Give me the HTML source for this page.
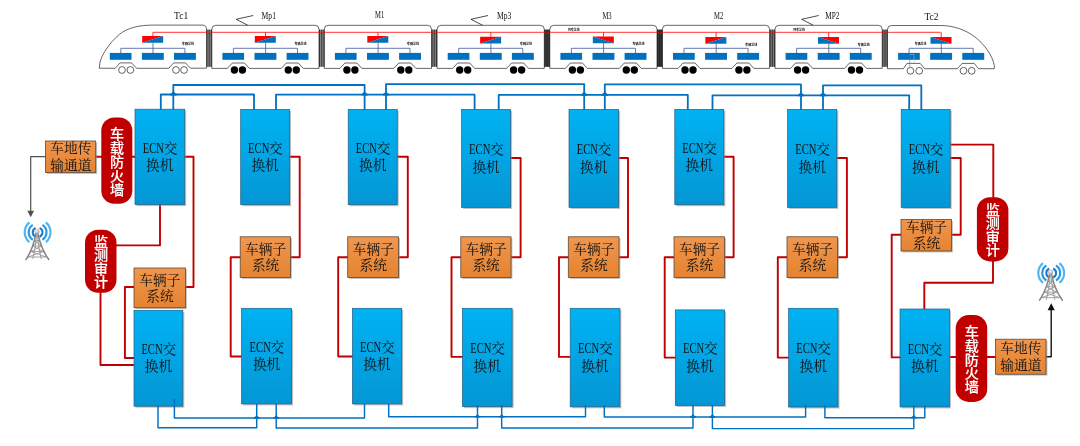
<!DOCTYPE html>
<html lang="zh"><head><meta charset="utf-8"><title>ECN</title>
<style>
html,body{margin:0;padding:0;background:#fff;}
body{width:1080px;height:446px;overflow:hidden;}
svg{display:block;}
.t{font-family:"Liberation Serif","Noto Serif CJK SC",serif;font-size:13.7px;fill:#111;}
.w{font-family:"Liberation Sans","Noto Sans CJK SC",sans-serif;font-size:14.1px;font-weight:500;fill:#fff;stroke:#fff;stroke-width:0.15px;}
.lbl{font-family:"Liberation Serif","Noto Serif CJK SC",serif;font-size:9.3px;fill:#111;}
.tiny{font-family:"Liberation Sans","Noto Sans CJK SC",sans-serif;font-size:3.2px;font-weight:bold;fill:#000;}
</style></head><body>
<svg width="1080" height="446" viewBox="0 0 1080 446">
<defs>
<linearGradient id="gE" x1="0" y1="0" x2="0" y2="1"><stop offset="0" stop-color="#00B2F2"/><stop offset="0.45" stop-color="#02A6E6"/><stop offset="1" stop-color="#0496D4"/></linearGradient>
<linearGradient id="gO" x1="0" y1="0" x2="0" y2="1"><stop offset="0" stop-color="#F0964F"/><stop offset="1" stop-color="#E5832F"/></linearGradient>
<radialGradient id="gB" cx="0.4" cy="0.35" r="0.7"><stop offset="0" stop-color="#ffffff"/><stop offset="1" stop-color="#9a9a9a"/></radialGradient>
<filter id="soft" x="-20%" y="-20%" width="140%" height="140%"><feGaussianBlur stdDeviation="0.35"/></filter>
<filter id="sh" x="-10%" y="-10%" width="120%" height="120%"><feGaussianBlur stdDeviation="0.7"/></filter>
</defs>
<rect width="1080" height="446" fill="#fff"/>
<g id="train">
<path d="M99.3 68.2L99.9 63.1C101 56 109 43 119.6 34.2C128 27.5 140 25.1 152.9 25.1H202.5Q206.5 25.1 206.5 29.4V68.2H190.5L185.5 62.9H173.7L168.7 68.3H136.6L131.6 62.9H120L115.2 68.3Z" fill="#fff" stroke="#000" stroke-width="0.6"/>
<path d="M211.8 68.4V29.3Q211.8 25.3 215.8 25.3H315.0Q319.0 25.3 319.0 29.3V68.4H303.3L298.3 63.0H286.3L281.3 68.4H249.4L244.4 63.0H232.4L227.4 68.4Z" fill="#fff" stroke="#000" stroke-width="0.6"/>
<path d="M324.3 68.4V29.3Q324.3 25.3 328.3 25.3H427.5Q431.5 25.3 431.5 29.3V68.4H415.8L410.8 63.0H398.8L393.8 68.4H361.9L356.9 63.0H344.9L339.9 68.4Z" fill="#fff" stroke="#000" stroke-width="0.6"/>
<path d="M437.1 68.4V29.3Q437.1 25.3 441.1 25.3H540.3Q544.3 25.3 544.3 29.3V68.4H528.6L523.6 63.0H511.6L506.6 68.4H474.7L469.7 63.0H457.7L452.7 68.4Z" fill="#fff" stroke="#000" stroke-width="0.6"/>
<path d="M549.8 68.4V29.3Q549.8 25.3 553.8 25.3H653.0Q657.0 25.3 657.0 29.3V68.4H641.3L636.3 63.0H624.3L619.3 68.4H587.4L582.4 63.0H570.4L565.4 68.4Z" fill="#fff" stroke="#000" stroke-width="0.6"/>
<path d="M662.4 68.4V29.3Q662.4 25.3 666.4 25.3H765.6Q769.6 25.3 769.6 29.3V68.4H753.9L748.9 63.0H736.9L731.9 68.4H700.0L695.0 63.0H683.0L678.0 68.4Z" fill="#fff" stroke="#000" stroke-width="0.6"/>
<path d="M775.0 68.4V29.3Q775.0 25.3 779.0 25.3H878.2Q882.2 25.3 882.2 29.3V68.4H866.5L861.5 63.0H849.5L844.5 68.4H812.6L807.6 63.0H795.6L790.6 68.4Z" fill="#fff" stroke="#000" stroke-width="0.6"/>
<path d="M887.5 68.7V29.5Q887.5 25.5 891.5 25.5H940.6C953 25.5 965 29.5 975 37C985 45 992 55 994.3 65.3V68.7H978.5L974.2 63.4H962.2L957.4 68.7H924.6L920.2 63.4H907L903.4 68.7Z" fill="#fff" stroke="#000" stroke-width="0.6"/>
<rect x="206.5" y="29.6" width="5.3" height="37.2" fill="#858585"/><path d="M206.90 29.6V66.8" stroke="#1a1a1a" stroke-width="0.8"/><path d="M209.15 29.6V66.8" stroke="#1a1a1a" stroke-width="0.7"/><path d="M211.40 29.6V66.8" stroke="#1a1a1a" stroke-width="0.8"/>
<rect x="319.1" y="29.6" width="5.3" height="37.2" fill="#858585"/><path d="M319.50 29.6V66.8" stroke="#1a1a1a" stroke-width="0.8"/><path d="M321.75 29.6V66.8" stroke="#1a1a1a" stroke-width="0.7"/><path d="M324.00 29.6V66.8" stroke="#1a1a1a" stroke-width="0.8"/>
<rect x="431.6" y="29.6" width="5.3" height="37.2" fill="#808080"/><path d="M432.00 29.6V66.8" stroke="#1a1a1a" stroke-width="0.8"/><path d="M434.25 29.6V66.8" stroke="#1a1a1a" stroke-width="0.7"/><path d="M436.50 29.6V66.8" stroke="#1a1a1a" stroke-width="0.8"/>
<rect x="544.4" y="29.6" width="5.3" height="37.2" fill="#404040"/><path d="M544.80 29.6V66.8" stroke="#1a1a1a" stroke-width="0.8"/><path d="M547.05 29.6V66.8" stroke="#1a1a1a" stroke-width="0.7"/><path d="M549.30 29.6V66.8" stroke="#1a1a1a" stroke-width="0.8"/>
<rect x="657.1" y="29.6" width="5.3" height="37.2" fill="#383838"/><path d="M657.50 29.6V66.8" stroke="#1a1a1a" stroke-width="0.8"/><path d="M659.75 29.6V66.8" stroke="#1a1a1a" stroke-width="0.7"/><path d="M662.00 29.6V66.8" stroke="#1a1a1a" stroke-width="0.8"/>
<rect x="769.7" y="29.6" width="5.3" height="37.2" fill="#787878"/><path d="M770.10 29.6V66.8" stroke="#1a1a1a" stroke-width="0.8"/><path d="M772.35 29.6V66.8" stroke="#1a1a1a" stroke-width="0.7"/><path d="M774.60 29.6V66.8" stroke="#1a1a1a" stroke-width="0.8"/>
<rect x="882.3" y="29.6" width="5.3" height="37.2" fill="#787878"/><path d="M882.70 29.6V66.8" stroke="#1a1a1a" stroke-width="0.8"/><path d="M884.95 29.6V66.8" stroke="#1a1a1a" stroke-width="0.7"/><path d="M887.20 29.6V66.8" stroke="#1a1a1a" stroke-width="0.8"/>
<path d="M152.9 32.3H205.7Q209.1 34.6 212.6 32.3H318.3Q321.7 34.6 325.2 32.3H430.8Q434.2 34.6 437.7 32.3H543.6Q547.0 34.6 550.5 32.3H656.3Q659.7 34.6 663.2 32.3H768.9Q772.3 34.6 775.8 32.3H881.5Q884.9 34.6 888.4 32.3H940.6" stroke="#FF0000" stroke-width="0.8" fill="none"/>
<rect x="109.8" y="52.9" width="21.7" height="6.9" fill="#0070C0"/>
<rect x="141.9" y="52.9" width="21.9" height="6.9" fill="#0070C0"/>
<rect x="174.0" y="52.9" width="21.9" height="6.9" fill="#0070C0"/>
<path d="M120.8 53V48.3H184.9V53M153.0 42.5V53" fill="none" stroke="#34509a" stroke-width="0.9" opacity="0.85"/>
<path d="M142.2 36.1H163.2L142.2 42.8Z" fill="#FF0000"/>
<path d="M163.2 36.1V42.8H142.2Z" fill="#0070C0"/>
<path d="M152.9 32.3V36.1" stroke="#FF0000" stroke-width="0.8" fill="none"/>
<text x="182.0" y="44.6" class="tiny" textLength="12" lengthAdjust="spacingAndGlyphs">车辆总线</text>
<rect x="222.4" y="52.9" width="21.7" height="6.9" fill="#0070C0"/>
<rect x="254.5" y="52.9" width="21.9" height="6.9" fill="#0070C0"/>
<rect x="286.6" y="52.9" width="21.9" height="6.9" fill="#0070C0"/>
<path d="M233.4 53V48.3H297.5V53M265.6 42.5V53" fill="none" stroke="#34509a" stroke-width="0.9" opacity="0.85"/>
<path d="M254.8 36.1H275.8L254.8 42.8Z" fill="#FF0000"/>
<path d="M275.8 36.1V42.8H254.8Z" fill="#0070C0"/>
<path d="M265.5 32.3V36.1" stroke="#FF0000" stroke-width="0.8" fill="none"/>
<text x="294.6" y="44.6" class="tiny" textLength="12" lengthAdjust="spacingAndGlyphs">车辆总线</text>
<rect x="334.9" y="52.9" width="21.7" height="6.9" fill="#0070C0"/>
<rect x="367.0" y="52.9" width="21.9" height="6.9" fill="#0070C0"/>
<rect x="399.1" y="52.9" width="21.9" height="6.9" fill="#0070C0"/>
<path d="M345.9 53V48.3H410.0V53M378.1 42.5V53" fill="none" stroke="#34509a" stroke-width="0.9" opacity="0.85"/>
<path d="M367.3 36.1H388.3L367.3 42.8Z" fill="#FF0000"/>
<path d="M388.3 36.1V42.8H367.3Z" fill="#0070C0"/>
<path d="M378.0 32.3V36.1" stroke="#FF0000" stroke-width="0.8" fill="none"/>
<text x="407.1" y="44.6" class="tiny" textLength="12" lengthAdjust="spacingAndGlyphs">车辆总线</text>
<rect x="447.7" y="52.9" width="21.7" height="6.9" fill="#0070C0"/>
<rect x="479.8" y="52.9" width="21.9" height="6.9" fill="#0070C0"/>
<rect x="511.9" y="52.9" width="21.9" height="6.9" fill="#0070C0"/>
<path d="M458.7 53V48.3H522.8V53M490.9 43.1V53" fill="none" stroke="#34509a" stroke-width="0.9" opacity="0.85"/>
<path d="M480.1 36.7H501.1L480.1 43.4Z" fill="#FF0000"/>
<path d="M501.1 36.7V43.4H480.1Z" fill="#0070C0"/>
<path d="M490.8 32.3V36.7" stroke="#FF0000" stroke-width="0.8" fill="none"/>
<text x="519.9" y="45.2" class="tiny" textLength="12" lengthAdjust="spacingAndGlyphs">车辆总线</text>
<rect x="560.4" y="52.9" width="21.7" height="6.9" fill="#0070C0"/>
<rect x="592.5" y="52.9" width="21.9" height="6.9" fill="#0070C0"/>
<rect x="624.6" y="52.9" width="21.9" height="6.9" fill="#0070C0"/>
<path d="M571.4 53V48.3H635.5V53M603.6 42.9V53" fill="none" stroke="#34509a" stroke-width="0.9" opacity="0.85"/>
<path d="M592.8 36.5H613.8V43.2Z" fill="#FF0000"/>
<path d="M592.8 36.5L613.8 43.2H592.8Z" fill="#0070C0"/>
<path d="M603.5 32.3V36.5" stroke="#FF0000" stroke-width="0.8" fill="none"/>
<text x="632.6" y="45.0" class="tiny" textLength="12" lengthAdjust="spacingAndGlyphs">车辆总线</text>
<text x="568.1" y="31.0" class="tiny" textLength="11.5" lengthAdjust="spacingAndGlyphs">列车总线</text>
<rect x="673.0" y="52.9" width="21.7" height="6.9" fill="#0070C0"/>
<rect x="705.1" y="52.9" width="21.9" height="6.9" fill="#0070C0"/>
<rect x="737.2" y="52.9" width="21.9" height="6.9" fill="#0070C0"/>
<path d="M684.0 53V48.3H748.1V53M716.2 43.4V53" fill="none" stroke="#34509a" stroke-width="0.9" opacity="0.85"/>
<path d="M705.4 37.0H726.4L705.4 43.7Z" fill="#FF0000"/>
<path d="M726.4 37.0V43.7H705.4Z" fill="#0070C0"/>
<path d="M716.1 32.3V37.0" stroke="#FF0000" stroke-width="0.8" fill="none"/>
<text x="745.2" y="45.5" class="tiny" textLength="12" lengthAdjust="spacingAndGlyphs">车辆总线</text>
<rect x="785.6" y="52.9" width="21.7" height="6.9" fill="#0070C0"/>
<rect x="817.7" y="52.9" width="21.9" height="6.9" fill="#0070C0"/>
<rect x="849.8" y="52.9" width="21.9" height="6.9" fill="#0070C0"/>
<path d="M796.6 53V48.3H860.7V53M828.8 43.4V53" fill="none" stroke="#34509a" stroke-width="0.9" opacity="0.85"/>
<path d="M818.0 37.0H839.0V43.7Z" fill="#FF0000"/>
<path d="M818.0 37.0L839.0 43.7H818.0Z" fill="#0070C0"/>
<path d="M828.7 32.3V37.0" stroke="#FF0000" stroke-width="0.8" fill="none"/>
<text x="857.8" y="45.5" class="tiny" textLength="12" lengthAdjust="spacingAndGlyphs">车辆总线</text>
<text x="793.3" y="31.0" class="tiny" textLength="11.5" lengthAdjust="spacingAndGlyphs">列车总线</text>
<rect x="898.1" y="52.9" width="21.7" height="6.9" fill="#0070C0"/>
<rect x="930.2" y="52.9" width="21.9" height="6.9" fill="#0070C0"/>
<rect x="962.3" y="52.9" width="21.9" height="6.9" fill="#0070C0"/>
<path d="M909.1 53V48.3H973.2V53M941.3 43.5V53" fill="none" stroke="#34509a" stroke-width="0.9" opacity="0.85"/>
<path d="M930.5 37.1H951.5V43.8Z" fill="#FF0000"/>
<path d="M930.5 37.1L951.5 43.8H930.5Z" fill="#0070C0"/>
<path d="M941.2 32.3V37.1" stroke="#FF0000" stroke-width="0.8" fill="none"/>
<text x="914.8" y="44.9" class="tiny" textLength="11.5" lengthAdjust="spacingAndGlyphs">车辆总线</text>
<path d="M909.7 54.5V66.8" stroke="#4472C4" stroke-width="0.6" fill="none"/><path d="M909.7 54.5H914V62.7" stroke="#9DB7E0" stroke-width="0.6" fill="none"/>
<circle cx="122.0" cy="70.0" r="3.4" fill="#fff" stroke="#000" stroke-width="0.6"/>
<circle cx="130.4" cy="70.0" r="3.4" fill="#fff" stroke="#000" stroke-width="0.6"/>
<circle cx="176.0" cy="70.0" r="3.4" fill="#fff" stroke="#000" stroke-width="0.6"/>
<circle cx="184.0" cy="70.0" r="3.4" fill="#fff" stroke="#000" stroke-width="0.6"/>
<circle cx="234.4" cy="70.0" r="3.7" fill="#000"/>
<circle cx="242.4" cy="70.0" r="3.7" fill="#000"/>
<circle cx="288.3" cy="70.0" r="3.7" fill="#000"/>
<circle cx="296.3" cy="70.0" r="3.7" fill="#000"/>
<circle cx="346.9" cy="70.0" r="3.7" fill="#000"/>
<circle cx="354.9" cy="70.0" r="3.7" fill="#000"/>
<circle cx="400.8" cy="70.0" r="3.7" fill="#000"/>
<circle cx="408.8" cy="70.0" r="3.7" fill="#000"/>
<circle cx="459.7" cy="70.0" r="3.7" fill="#000"/>
<circle cx="467.7" cy="70.0" r="3.7" fill="#000"/>
<circle cx="513.6" cy="70.0" r="3.7" fill="#000"/>
<circle cx="521.6" cy="70.0" r="3.7" fill="#000"/>
<circle cx="572.4" cy="70.0" r="3.7" fill="#000"/>
<circle cx="580.4" cy="70.0" r="3.7" fill="#000"/>
<circle cx="626.3" cy="70.0" r="3.7" fill="#000"/>
<circle cx="634.3" cy="70.0" r="3.7" fill="#000"/>
<circle cx="685.0" cy="70.0" r="3.7" fill="#000"/>
<circle cx="693.0" cy="70.0" r="3.7" fill="#000"/>
<circle cx="738.9" cy="70.0" r="3.7" fill="#000"/>
<circle cx="746.9" cy="70.0" r="3.7" fill="#000"/>
<circle cx="797.6" cy="70.0" r="3.7" fill="#000"/>
<circle cx="805.6" cy="70.0" r="3.7" fill="#000"/>
<circle cx="851.5" cy="70.0" r="3.7" fill="#000"/>
<circle cx="859.5" cy="70.0" r="3.7" fill="#000"/>
<circle cx="910.4" cy="70.8" r="3.4" fill="#fff" stroke="#000" stroke-width="0.6"/>
<circle cx="919.2" cy="70.8" r="3.4" fill="#fff" stroke="#000" stroke-width="0.6"/>
<circle cx="963.5" cy="70.8" r="3.4" fill="#fff" stroke="#000" stroke-width="0.6"/>
<circle cx="971.7" cy="70.8" r="3.4" fill="#fff" stroke="#000" stroke-width="0.6"/>
<path d="M253.2 15.5L236.2 19.3L247.7 25.2" fill="none" stroke="#000" stroke-width="0.7"/>
<path d="M488.0 15.5L471.0 19.3L482.5 25.2" fill="none" stroke="#000" stroke-width="0.7"/>
<path d="M818.7 15.5L801.7 19.3L813.2 25.2" fill="none" stroke="#000" stroke-width="0.7"/>
<text x="174.0" y="18.9" class="lbl" textLength="14.2" lengthAdjust="spacingAndGlyphs">Tc1</text>
<text x="261.6" y="18.9" class="lbl" textLength="14.4" lengthAdjust="spacingAndGlyphs">Mp1</text>
<text x="375.0" y="17.8" class="lbl" textLength="9.2" lengthAdjust="spacingAndGlyphs">M1</text>
<text x="497.0" y="18.6" class="lbl" textLength="14.4" lengthAdjust="spacingAndGlyphs">Mp3</text>
<text x="602.4" y="18.6" class="lbl" textLength="9.2" lengthAdjust="spacingAndGlyphs">M3</text>
<text x="714.0" y="18.7" class="lbl" textLength="9.2" lengthAdjust="spacingAndGlyphs">M2</text>
<text x="825.2" y="18.7" class="lbl" textLength="14.2" lengthAdjust="spacingAndGlyphs">MP2</text>
<text x="924.4" y="19.5" class="lbl" textLength="14.2" lengthAdjust="spacingAndGlyphs">Tc2</text>
</g>
<g id="lines">
<path d="M160.8 110V94.5H254.0V110" fill="none" stroke="#0070C0" stroke-width="1.8" stroke-linejoin="round"/>
<path d="M173.3 110V85.0H364.6V110" fill="none" stroke="#0070C0" stroke-width="1.8" stroke-linejoin="round"/>
<path d="M276.0 110V94.7H474.6V110" fill="none" stroke="#0070C0" stroke-width="1.8" stroke-linejoin="round"/>
<path d="M386.0 110V84.2H584.2V110" fill="none" stroke="#0070C0" stroke-width="1.8" stroke-linejoin="round"/>
<path d="M498.7 110V94.9H687.8V110" fill="none" stroke="#0070C0" stroke-width="1.8" stroke-linejoin="round"/>
<path d="M604.8 110V84.4H801.0V110" fill="none" stroke="#0070C0" stroke-width="1.8" stroke-linejoin="round"/>
<path d="M712.5 110V95.3H909.2V110" fill="none" stroke="#0070C0" stroke-width="1.8" stroke-linejoin="round"/>
<path d="M823.0 110V85.3H921.3V110" fill="none" stroke="#0070C0" stroke-width="1.8" stroke-linejoin="round"/>
<path d="M170.2 95.4H176.6V93.9Q175.0 93.6 173.4 90.8Q171.8 93.6 170.2 93.9Z" fill="#0070C0"/>
<path d="M361.4 95.6H367.8V94.1Q366.2 93.8 364.6 91.0Q363.0 93.8 361.4 94.1Z" fill="#0070C0"/>
<path d="M382.8 95.6H389.2V94.1Q387.6 93.8 386.0 91.0Q384.4 93.8 382.8 94.1Z" fill="#0070C0"/>
<path d="M581.0 95.8H587.4V94.3Q585.8 94.0 584.2 91.2Q582.6 94.0 581.0 94.3Z" fill="#0070C0"/>
<path d="M601.6 95.8H608.0V94.3Q606.4 94.0 604.8 91.2Q603.2 94.0 601.6 94.3Z" fill="#0070C0"/>
<path d="M797.8 96.2H804.2V94.7Q802.6 94.4 801.0 91.6Q799.4 94.4 797.8 94.7Z" fill="#0070C0"/>
<path d="M819.8 96.2H826.2V94.7Q824.6 94.4 823.0 91.6Q821.4 94.4 819.8 94.7Z" fill="#0070C0"/>
<path d="M253.7 418.7H259.7V417.5Q258.2 417.2 256.7 415.1Q255.2 417.2 253.7 417.5Z" fill="#0070C0"/>
<path d="M273.2 418.7H279.2V417.5Q277.7 417.2 276.2 415.1Q274.7 417.2 273.2 417.5Z" fill="#0070C0"/>
<path d="M474.5 417.5H480.5V416.3Q479.0 416.0 477.5 413.9Q476.0 416.0 474.5 416.3Z" fill="#0070C0"/>
<path d="M498.7 417.5H504.7V416.3Q503.2 416.0 501.7 413.9Q500.2 416.0 498.7 416.3Z" fill="#0070C0"/>
<path d="M690.0 417.7H696.0V416.5Q694.5 416.2 693.0 414.1Q691.5 416.2 690.0 416.5Z" fill="#0070C0"/>
<path d="M709.4 417.7H715.4V416.5Q713.9 416.2 712.4 414.1Q710.9 416.2 709.4 416.5Z" fill="#0070C0"/>
<path d="M910.8 418.4H916.8V417.2Q915.3 416.9 913.8 414.8Q912.3 416.9 910.8 417.2Z" fill="#0070C0"/>
<path d="M95.7 156.7H136" fill="none" stroke="#C00000" stroke-width="1.9" stroke-linejoin="round"/>
<path d="M184 156.7H193.5V287H185" fill="none" stroke="#C00000" stroke-width="1.9" stroke-linejoin="round"/>
<path d="M160 204V245.4H116" fill="none" stroke="#C00000" stroke-width="1.9" stroke-linejoin="round"/>
<path d="M100.5 292V365H135" fill="none" stroke="#C00000" stroke-width="1.9" stroke-linejoin="round"/>
<path d="M135 287H124.9V358H135" fill="none" stroke="#C00000" stroke-width="1.9" stroke-linejoin="round"/>
<path d="M288.7 156.7H299.7V257.2H289.5" fill="none" stroke="#C00000" stroke-width="1.9" stroke-linejoin="round"/>
<path d="M241.2 257.2H230.7V356.5H242.5" fill="none" stroke="#C00000" stroke-width="1.9" stroke-linejoin="round"/>
<path d="M396.2 156.7H407.8V257.2H397.5" fill="none" stroke="#C00000" stroke-width="1.9" stroke-linejoin="round"/>
<path d="M348.7 257.2H338.2V356.5H353.4" fill="none" stroke="#C00000" stroke-width="1.9" stroke-linejoin="round"/>
<path d="M509.6 158.0H520.6V257.2H510.0" fill="none" stroke="#C00000" stroke-width="1.9" stroke-linejoin="round"/>
<path d="M461.8 257.2H451.5V356.9H463.4" fill="none" stroke="#C00000" stroke-width="1.9" stroke-linejoin="round"/>
<path d="M617.6 158.0H628.0V257.2H618.0" fill="none" stroke="#C00000" stroke-width="1.9" stroke-linejoin="round"/>
<path d="M569.3 257.2H559.0V356.9H571.2" fill="none" stroke="#C00000" stroke-width="1.9" stroke-linejoin="round"/>
<path d="M722.8 156.7H733.6V257.2H723.5" fill="none" stroke="#C00000" stroke-width="1.9" stroke-linejoin="round"/>
<path d="M675.0 257.2H664.7V357.6H676.3" fill="none" stroke="#C00000" stroke-width="1.9" stroke-linejoin="round"/>
<path d="M835.8 158.0H846.9V257.2H836.6" fill="none" stroke="#C00000" stroke-width="1.9" stroke-linejoin="round"/>
<path d="M788.0 257.2H777.8V357.6H789.6" fill="none" stroke="#C00000" stroke-width="1.9" stroke-linejoin="round"/>
<path d="M949 144.6H993.3V198" fill="none" stroke="#C00000" stroke-width="1.9" stroke-linejoin="round"/>
<path d="M949 158H960.7V234.8H951" fill="none" stroke="#C00000" stroke-width="1.9" stroke-linejoin="round"/>
<path d="M902 234.8H891.7V357.4H901" fill="none" stroke="#C00000" stroke-width="1.9" stroke-linejoin="round"/>
<path d="M993 261V282.7H924.3V310" fill="none" stroke="#C00000" stroke-width="1.9" stroke-linejoin="round"/>
<path d="M949 357H996" fill="none" stroke="#C00000" stroke-width="1.9" stroke-linejoin="round"/>
<path d="M46 156.7H30.7V212" fill="none" stroke="#505050" stroke-width="1.2" stroke-linejoin="round"/>
<path d="M27.3 210.8H34.1L30.7 217.3Z" fill="#505050"/>
<path d="M1045.5 356.8H1051.2V309" fill="none" stroke="#111" stroke-width="1.4" stroke-linejoin="round"/>
<path d="M1047.6 310.2H1054.8L1051.2 303.3Z" fill="#111"/>
</g>
<g id="boxes">
<rect x="136.5" y="110.7" width="49.7" height="95.4" fill="#8a8a8a" opacity="0.55" filter="url(#sh)"/>
<rect x="135.0" y="109.2" width="49.7" height="95.4" fill="url(#gE)" stroke="#235f84" stroke-width="0.7"/>
<text class="t" y="152.6"><tspan x="142.8" font-size="14.4" textLength="21.2" lengthAdjust="spacingAndGlyphs">ECN</tspan><tspan x="163.8">交</tspan></text>
<text class="t" x="159.8" y="170.0" text-anchor="middle">换机</text>
<rect x="242.2" y="110.9" width="48.9" height="95.3" fill="#8a8a8a" opacity="0.55" filter="url(#sh)"/>
<rect x="240.7" y="109.4" width="48.9" height="95.3" fill="url(#gE)" stroke="#235f84" stroke-width="0.7"/>
<text class="t" y="152.8"><tspan x="248.1" font-size="14.4" textLength="21.2" lengthAdjust="spacingAndGlyphs">ECN</tspan><tspan x="269.1">交</tspan></text>
<text class="t" x="265.1" y="170.2" text-anchor="middle">换机</text>
<rect x="349.7" y="110.9" width="49.0" height="95.3" fill="#8a8a8a" opacity="0.55" filter="url(#sh)"/>
<rect x="348.2" y="109.4" width="49.0" height="95.3" fill="url(#gE)" stroke="#235f84" stroke-width="0.7"/>
<text class="t" y="152.8"><tspan x="355.7" font-size="14.4" textLength="21.2" lengthAdjust="spacingAndGlyphs">ECN</tspan><tspan x="376.7">交</tspan></text>
<text class="t" x="372.7" y="170.2" text-anchor="middle">换机</text>
<rect x="463.1" y="110.9" width="49.0" height="98.0" fill="#8a8a8a" opacity="0.55" filter="url(#sh)"/>
<rect x="461.6" y="109.4" width="49.0" height="98.0" fill="url(#gE)" stroke="#235f84" stroke-width="0.7"/>
<text class="t" y="154.1"><tspan x="469.1" font-size="14.4" textLength="21.2" lengthAdjust="spacingAndGlyphs">ECN</tspan><tspan x="490.1">交</tspan></text>
<text class="t" x="486.1" y="171.5" text-anchor="middle">换机</text>
<rect x="570.5" y="110.9" width="49.6" height="98.0" fill="#8a8a8a" opacity="0.55" filter="url(#sh)"/>
<rect x="569.0" y="109.4" width="49.6" height="98.0" fill="url(#gE)" stroke="#235f84" stroke-width="0.7"/>
<text class="t" y="154.1"><tspan x="576.8" font-size="14.4" textLength="21.2" lengthAdjust="spacingAndGlyphs">ECN</tspan><tspan x="597.8">交</tspan></text>
<text class="t" x="593.8" y="171.5" text-anchor="middle">换机</text>
<rect x="676.3" y="110.9" width="49.0" height="95.3" fill="#8a8a8a" opacity="0.55" filter="url(#sh)"/>
<rect x="674.8" y="109.4" width="49.0" height="95.3" fill="url(#gE)" stroke="#235f84" stroke-width="0.7"/>
<text class="t" y="152.8"><tspan x="682.3" font-size="14.4" textLength="21.2" lengthAdjust="spacingAndGlyphs">ECN</tspan><tspan x="703.3">交</tspan></text>
<text class="t" x="699.3" y="170.2" text-anchor="middle">换机</text>
<rect x="789.1" y="110.9" width="49.2" height="98.0" fill="#8a8a8a" opacity="0.55" filter="url(#sh)"/>
<rect x="787.6" y="109.4" width="49.2" height="98.0" fill="url(#gE)" stroke="#235f84" stroke-width="0.7"/>
<text class="t" y="154.1"><tspan x="795.2" font-size="14.4" textLength="21.2" lengthAdjust="spacingAndGlyphs">ECN</tspan><tspan x="816.2">交</tspan></text>
<text class="t" x="812.2" y="171.5" text-anchor="middle">换机</text>
<rect x="902.7" y="110.9" width="49.0" height="98.0" fill="#8a8a8a" opacity="0.55" filter="url(#sh)"/>
<rect x="901.2" y="109.4" width="49.0" height="98.0" fill="url(#gE)" stroke="#235f84" stroke-width="0.7"/>
<text class="t" y="154.1"><tspan x="908.7" font-size="14.4" textLength="21.2" lengthAdjust="spacingAndGlyphs">ECN</tspan><tspan x="929.7">交</tspan></text>
<text class="t" x="925.7" y="171.5" text-anchor="middle">换机</text>
<rect x="135.5" y="311.8" width="48.8" height="95.9" fill="#8a8a8a" opacity="0.55" filter="url(#sh)"/>
<rect x="134.0" y="310.3" width="48.8" height="95.9" fill="url(#gE)" stroke="#235f84" stroke-width="0.7"/>
<text class="t" y="353.9"><tspan x="141.4" font-size="14.4" textLength="21.2" lengthAdjust="spacingAndGlyphs">ECN</tspan><tspan x="162.4">交</tspan></text>
<text class="t" x="158.4" y="371.4" text-anchor="middle">换机</text>
<rect x="243.0" y="309.8" width="50.1" height="95.6" fill="#8a8a8a" opacity="0.55" filter="url(#sh)"/>
<rect x="241.5" y="308.3" width="50.1" height="95.6" fill="url(#gE)" stroke="#235f84" stroke-width="0.7"/>
<text class="t" y="351.8"><tspan x="249.6" font-size="14.4" textLength="21.2" lengthAdjust="spacingAndGlyphs">ECN</tspan><tspan x="270.6">交</tspan></text>
<text class="t" x="266.6" y="369.2" text-anchor="middle">换机</text>
<rect x="353.9" y="309.8" width="49.3" height="95.6" fill="#8a8a8a" opacity="0.55" filter="url(#sh)"/>
<rect x="352.4" y="308.3" width="49.3" height="95.6" fill="url(#gE)" stroke="#235f84" stroke-width="0.7"/>
<text class="t" y="351.8"><tspan x="360.0" font-size="14.4" textLength="21.2" lengthAdjust="spacingAndGlyphs">ECN</tspan><tspan x="381.0">交</tspan></text>
<text class="t" x="377.0" y="369.2" text-anchor="middle">换机</text>
<rect x="463.9" y="309.8" width="49.7" height="98.3" fill="#8a8a8a" opacity="0.55" filter="url(#sh)"/>
<rect x="462.4" y="308.3" width="49.7" height="98.3" fill="url(#gE)" stroke="#235f84" stroke-width="0.7"/>
<text class="t" y="353.2"><tspan x="470.2" font-size="14.4" textLength="21.2" lengthAdjust="spacingAndGlyphs">ECN</tspan><tspan x="491.2">交</tspan></text>
<text class="t" x="487.2" y="370.6" text-anchor="middle">换机</text>
<rect x="571.7" y="309.8" width="49.7" height="98.5" fill="#8a8a8a" opacity="0.55" filter="url(#sh)"/>
<rect x="570.2" y="308.3" width="49.7" height="98.5" fill="url(#gE)" stroke="#235f84" stroke-width="0.7"/>
<text class="t" y="353.2"><tspan x="578.0" font-size="14.4" textLength="21.2" lengthAdjust="spacingAndGlyphs">ECN</tspan><tspan x="599.0">交</tspan></text>
<text class="t" x="595.0" y="370.7" text-anchor="middle">换机</text>
<rect x="676.8" y="311.4" width="49.3" height="95.5" fill="#8a8a8a" opacity="0.55" filter="url(#sh)"/>
<rect x="675.3" y="309.9" width="49.3" height="95.5" fill="url(#gE)" stroke="#235f84" stroke-width="0.7"/>
<text class="t" y="353.3"><tspan x="683.0" font-size="14.4" textLength="21.2" lengthAdjust="spacingAndGlyphs">ECN</tspan><tspan x="704.0">交</tspan></text>
<text class="t" x="700.0" y="370.8" text-anchor="middle">换机</text>
<rect x="790.1" y="309.8" width="49.4" height="98.7" fill="#8a8a8a" opacity="0.55" filter="url(#sh)"/>
<rect x="788.6" y="308.3" width="49.4" height="98.7" fill="url(#gE)" stroke="#235f84" stroke-width="0.7"/>
<text class="t" y="353.3"><tspan x="796.3" font-size="14.4" textLength="21.2" lengthAdjust="spacingAndGlyphs">ECN</tspan><tspan x="817.3">交</tspan></text>
<text class="t" x="813.3" y="370.8" text-anchor="middle">换机</text>
<rect x="901.5" y="310.5" width="49.4" height="97.9" fill="#8a8a8a" opacity="0.55" filter="url(#sh)"/>
<rect x="900.0" y="309.0" width="49.4" height="97.9" fill="url(#gE)" stroke="#235f84" stroke-width="0.7"/>
<text class="t" y="353.6"><tspan x="907.7" font-size="14.4" textLength="21.2" lengthAdjust="spacingAndGlyphs">ECN</tspan><tspan x="928.7">交</tspan></text>
<text class="t" x="924.7" y="371.1" text-anchor="middle">换机</text>
<path d="M158.0 405V427.7H256.7V403" fill="none" stroke="#0070C0" stroke-width="1.45" stroke-linejoin="round"/>
<path d="M174.4 399V418.0H364.5V403" fill="none" stroke="#0070C0" stroke-width="1.45" stroke-linejoin="round"/>
<path d="M276.2 403V428.0H477.5V405" fill="none" stroke="#0070C0" stroke-width="1.45" stroke-linejoin="round"/>
<path d="M388.7 403V416.79999999999995H585.5V405" fill="none" stroke="#0070C0" stroke-width="1.45" stroke-linejoin="round"/>
<path d="M501.7 405V428.0H693.0V404" fill="none" stroke="#0070C0" stroke-width="1.45" stroke-linejoin="round"/>
<path d="M604.3 405V417.0H805.6V405" fill="none" stroke="#0070C0" stroke-width="1.45" stroke-linejoin="round"/>
<path d="M712.4 404V428.6H913.8V405" fill="none" stroke="#0070C0" stroke-width="1.45" stroke-linejoin="round"/>
<path d="M824.9 405V417.7H924.8V405" fill="none" stroke="#0070C0" stroke-width="1.45" stroke-linejoin="round"/>
<rect x="135.4" y="269.4" width="51.4" height="39.7" fill="#8a8a8a" opacity="0.55" filter="url(#sh)"/>
<rect x="134.0" y="268.0" width="51.4" height="39.7" fill="url(#gO)" stroke="#5e4a38" stroke-width="0.8"/>
<text class="t" x="159.9" y="284.6" text-anchor="middle">车辆子</text>
<text class="t" x="159.9" y="301.0" text-anchor="middle">系统</text>
<rect x="241.6" y="238.2" width="50.3" height="40.7" fill="#8a8a8a" opacity="0.55" filter="url(#sh)"/>
<rect x="240.2" y="236.8" width="50.3" height="40.7" fill="url(#gO)" stroke="#5e4a38" stroke-width="0.8"/>
<text class="t" x="265.6" y="253.8" text-anchor="middle">车辆子</text>
<text class="t" x="265.6" y="270.2" text-anchor="middle">系统</text>
<rect x="349.1" y="238.2" width="50.8" height="40.7" fill="#8a8a8a" opacity="0.55" filter="url(#sh)"/>
<rect x="347.7" y="236.8" width="50.8" height="40.7" fill="url(#gO)" stroke="#5e4a38" stroke-width="0.8"/>
<text class="t" x="373.3" y="253.8" text-anchor="middle">车辆子</text>
<text class="t" x="373.3" y="270.2" text-anchor="middle">系统</text>
<rect x="462.2" y="238.2" width="50.2" height="40.7" fill="#8a8a8a" opacity="0.55" filter="url(#sh)"/>
<rect x="460.8" y="236.8" width="50.2" height="40.7" fill="url(#gO)" stroke="#5e4a38" stroke-width="0.8"/>
<text class="t" x="486.1" y="253.8" text-anchor="middle">车辆子</text>
<text class="t" x="486.1" y="270.2" text-anchor="middle">系统</text>
<rect x="569.7" y="238.2" width="50.7" height="40.7" fill="#8a8a8a" opacity="0.55" filter="url(#sh)"/>
<rect x="568.3" y="236.8" width="50.7" height="40.7" fill="url(#gO)" stroke="#5e4a38" stroke-width="0.8"/>
<text class="t" x="593.9" y="253.8" text-anchor="middle">车辆子</text>
<text class="t" x="593.9" y="270.2" text-anchor="middle">系统</text>
<rect x="675.4" y="238.2" width="50.5" height="40.7" fill="#8a8a8a" opacity="0.55" filter="url(#sh)"/>
<rect x="674.0" y="236.8" width="50.5" height="40.7" fill="url(#gO)" stroke="#5e4a38" stroke-width="0.8"/>
<text class="t" x="699.5" y="253.8" text-anchor="middle">车辆子</text>
<text class="t" x="699.5" y="270.2" text-anchor="middle">系统</text>
<rect x="788.4" y="238.2" width="50.6" height="40.7" fill="#8a8a8a" opacity="0.55" filter="url(#sh)"/>
<rect x="787.0" y="236.8" width="50.6" height="40.7" fill="url(#gO)" stroke="#5e4a38" stroke-width="0.8"/>
<text class="t" x="812.5" y="253.8" text-anchor="middle">车辆子</text>
<text class="t" x="812.5" y="270.2" text-anchor="middle">系统</text>
<rect x="902.4" y="220.9" width="50.5" height="31.5" fill="#8a8a8a" opacity="0.55" filter="url(#sh)"/>
<rect x="901.0" y="219.5" width="50.5" height="31.5" fill="url(#gO)" stroke="#5e4a38" stroke-width="0.8"/>
<text class="t" x="926.5" y="231.9" text-anchor="middle">车辆子</text>
<text class="t" x="926.5" y="248.3" text-anchor="middle">系统</text>
<rect x="46.9" y="142.4" width="50.2" height="31.5" fill="#8a8a8a" opacity="0.55" filter="url(#sh)"/>
<rect x="45.5" y="141.0" width="50.2" height="31.5" fill="url(#gO)" stroke="#5e4a38" stroke-width="0.8"/>
<text class="t" x="70.8" y="153.4" text-anchor="middle">车地传</text>
<text class="t" x="70.8" y="169.8" text-anchor="middle">输通道</text>
<rect x="996.8" y="340.6" width="50.6" height="35.0" fill="#8a8a8a" opacity="0.55" filter="url(#sh)"/>
<rect x="995.4" y="339.2" width="50.6" height="35.0" fill="url(#gO)" stroke="#5e4a38" stroke-width="0.8"/>
<text class="t" x="1020.9" y="353.4" text-anchor="middle">车地传</text>
<text class="t" x="1020.9" y="369.8" text-anchor="middle">输通道</text>
<rect x="101.3" y="117.4" width="31.0" height="86.4" rx="13" ry="13" fill="#C00000"/>
<text class="w" x="117.1" y="139.3" text-anchor="middle">车</text>
<text class="w" x="117.1" y="153.2" text-anchor="middle">载</text>
<text class="w" x="117.1" y="167.0" text-anchor="middle">防</text>
<text class="w" x="117.1" y="180.9" text-anchor="middle">火</text>
<text class="w" x="117.1" y="194.7" text-anchor="middle">墙</text>
<rect x="955.7" y="315.1" width="31.5" height="86.8" rx="13" ry="13" fill="#C00000"/>
<text class="w" x="971.8" y="337.3" text-anchor="middle">车</text>
<text class="w" x="971.8" y="350.9" text-anchor="middle">载</text>
<text class="w" x="971.8" y="364.5" text-anchor="middle">防</text>
<text class="w" x="971.8" y="378.1" text-anchor="middle">火</text>
<text class="w" x="971.8" y="391.7" text-anchor="middle">墙</text>
<rect x="85.0" y="229.7" width="31.5" height="63.0" rx="13" ry="13" fill="#C00000"/>
<text class="w" x="101.0" y="246.6" text-anchor="middle">监</text>
<text class="w" x="101.0" y="260.2" text-anchor="middle">测</text>
<text class="w" x="101.0" y="273.8" text-anchor="middle">审</text>
<text class="w" x="101.0" y="287.4" text-anchor="middle">计</text>
<rect x="976.9" y="197.3" width="31.5" height="64.1" rx="13" ry="13" fill="#C00000"/>
<text class="w" x="992.9" y="214.9" text-anchor="middle">监</text>
<text class="w" x="992.9" y="228.3" text-anchor="middle">测</text>
<text class="w" x="992.9" y="241.8" text-anchor="middle">审</text>
<text class="w" x="992.9" y="255.2" text-anchor="middle">计</text>
</g>
<g transform="translate(37.0 231.5)" filter="url(#soft)">
<path d="M2.59 -3.68A4.9 4.9 0 0 1 2.59 5.28" fill="none" stroke="#1c78c8" stroke-width="2.0" stroke-linecap="butt"/>
<path d="M-1.39 -3.68A4.9 4.9 0 0 0 -1.39 5.28" fill="none" stroke="#1c78c8" stroke-width="2.0" stroke-linecap="butt"/>
<path d="M5.45 -6.66A8.9 8.9 0 0 1 5.45 8.26" fill="none" stroke="#2b98e2" stroke-width="2.2" stroke-linecap="butt"/>
<path d="M-4.25 -6.66A8.9 8.9 0 0 0 -4.25 8.26" fill="none" stroke="#2b98e2" stroke-width="2.2" stroke-linecap="butt"/>
<path d="M8.89 -9.08A12.9 12.9 0 0 1 8.89 10.68" fill="none" stroke="#4fb6f0" stroke-width="2.2" stroke-linecap="butt"/>
<path d="M-7.69 -9.08A12.9 12.9 0 0 0 -7.69 10.68" fill="none" stroke="#4fb6f0" stroke-width="2.2" stroke-linecap="butt"/>
<path d="M-0.9 2Q-4.2 18 -11.0 28M0.9 2Q4.2 18 11.8 28" stroke="#858585" stroke-width="1.5" fill="none" stroke-linecap="round"/>
<path d="M-0.2 3Q-1.8 17 -4.2 27.6M0.2 3Q1.8 17 4.2 27.6" stroke="#9a9a9a" stroke-width="0.9" fill="none"/>
<path d="M-2.6 9H2.6M-4.2 14.5H4.2M-6.2 20H6.2M-9 25.5H9M-2.6 9L4.2 14.5M2.6 9L-4.2 14.5M-4.2 14.5L6.2 20M4.2 14.5L-6.2 20M-6.2 20L9 25.5M6.2 20L-9 25.5" stroke="#8f8f8f" stroke-width="0.8" fill="none"/>
<circle cx="0" cy="0" r="2.3" fill="url(#gB)" stroke="#9a9a9a" stroke-width="0.4"/>
</g>
<g transform="translate(1050.6 272.2)" filter="url(#soft)">
<path d="M2.59 -3.68A4.9 4.9 0 0 1 2.59 5.28" fill="none" stroke="#1c78c8" stroke-width="2.0" stroke-linecap="butt"/>
<path d="M-1.39 -3.68A4.9 4.9 0 0 0 -1.39 5.28" fill="none" stroke="#1c78c8" stroke-width="2.0" stroke-linecap="butt"/>
<path d="M5.45 -6.66A8.9 8.9 0 0 1 5.45 8.26" fill="none" stroke="#2b98e2" stroke-width="2.2" stroke-linecap="butt"/>
<path d="M-4.25 -6.66A8.9 8.9 0 0 0 -4.25 8.26" fill="none" stroke="#2b98e2" stroke-width="2.2" stroke-linecap="butt"/>
<path d="M8.89 -9.08A12.9 12.9 0 0 1 8.89 10.68" fill="none" stroke="#4fb6f0" stroke-width="2.2" stroke-linecap="butt"/>
<path d="M-7.69 -9.08A12.9 12.9 0 0 0 -7.69 10.68" fill="none" stroke="#4fb6f0" stroke-width="2.2" stroke-linecap="butt"/>
<path d="M-0.9 2Q-4.2 18 -11.0 28M0.9 2Q4.2 18 11.8 28" stroke="#858585" stroke-width="1.5" fill="none" stroke-linecap="round"/>
<path d="M-0.2 3Q-1.8 17 -4.2 27.6M0.2 3Q1.8 17 4.2 27.6" stroke="#9a9a9a" stroke-width="0.9" fill="none"/>
<path d="M-2.6 9H2.6M-4.2 14.5H4.2M-6.2 20H6.2M-9 25.5H9M-2.6 9L4.2 14.5M2.6 9L-4.2 14.5M-4.2 14.5L6.2 20M4.2 14.5L-6.2 20M-6.2 20L9 25.5M6.2 20L-9 25.5" stroke="#8f8f8f" stroke-width="0.8" fill="none"/>
<circle cx="0" cy="0" r="2.3" fill="url(#gB)" stroke="#9a9a9a" stroke-width="0.4"/>
</g>
</svg>
</body></html>
